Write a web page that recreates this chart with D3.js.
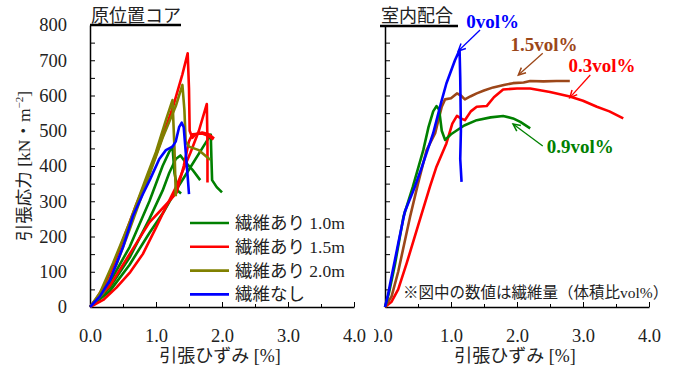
<!DOCTYPE html>
<html>
<head>
<meta charset="utf-8">
<script src="https://cdn.jsdelivr.net/npm/d3@7"></script>
<style>
  body { margin: 0; background: #fff; }
  text { font-family: "Liberation Serif", "Noto Sans CJK JP", serif; fill: #222; }
</style>
</head>
<body>
<div id="chart"></div>
<script>
// 原位置コア (field cores) - [strain %, stress kN/m2]
const fieldGreenA = [[0,0],[0.3,70],[0.6,170],[0.9,300],[1.1,400],[1.2,440],[1.25,455],[1.28,380],[1.33,330],[1.38,322]];
const fieldGreenB = [[0,0],[0.3,55],[0.6,140],[0.9,250],[1.1,330],[1.2,380],[1.3,420],[1.37,430],[1.45,410],[1.55,390],[1.67,360]];
const fieldGreenC = [[0,0],[0.3,45],[0.6,120],[0.9,210],[1.11,268],[1.3,330],[1.5,390],[1.7,450],[1.83,489],[1.84,420],[1.85,360],[1.92,340],[2.0,325]];
const fieldRedA = [[0,0],[0.1,25],[0.2,55],[0.35,116],[0.5,190],[0.7,290],[0.86,362],[1.0,430],[1.26,569],[1.4,660],[1.48,720],[1.5,620],[1.51,500],[1.55,480],[1.6,490],[1.7,495],[1.8,490],[1.88,478]];
const fieldRedB = [[0,0],[0.2,20],[0.4,55],[0.61,99],[0.8,150],[1.0,225],[1.11,268],[1.31,343],[1.52,437],[1.65,500],[1.77,576],[1.78,460],[1.78,353]];
const fieldRedC = [[0,0],[0.3,60],[0.6,150],[0.9,240],[1.2,300],[1.31,324],[1.42,400],[1.5,470],[1.55,490],[1.7,492],[1.8,485],[1.87,475]];
const fieldOliveA = [[0,0],[0.15,40],[0.35,125],[0.6,240],[0.86,371],[1.0,440],[1.15,530],[1.25,587],[1.28,450],[1.3,314]];
const fieldOliveB = [[0,0],[0.2,40],[0.4,120],[0.6,220],[0.86,355],[1.1,480],[1.3,570],[1.4,630],[1.43,560],[1.45,470],[1.5,455],[1.65,445],[1.82,418]];
const fieldBlue = [[0,0],[0.15,30],[0.3,75],[0.5,170],[0.65,258],[0.8,320],[0.91,362],[1.05,420],[1.15,445],[1.25,455],[1.3,470],[1.35,510],[1.39,523],[1.42,510],[1.45,440],[1.48,370],[1.5,320]];

// 室内配合 (lab mix)
const labBlue = [[0,0],[0.04,30],[0.08,68],[0.2,180],[0.3,270],[0.45,340],[0.56,398],[0.73,493],[0.85,580],[0.93,634],[1.06,700],[1.13,729],[1.14,650],[1.15,500],[1.14,420],[1.16,355]];
const labGreen = [[0,0],[0.06,40],[0.15,120],[0.28,256],[0.42,340],[0.58,445],[0.66,511],[0.73,555],[0.78,570],[0.82,560],[0.86,500],[0.91,474],[1.0,490],[1.2,515],[1.39,530],[1.6,538],[1.79,542],[1.94,535],[2.05,525],[2.2,507]];
const labBrown = [[0,0],[0.1,30],[0.2,100],[0.38,256],[0.5,350],[0.63,445],[0.76,493],[0.86,568],[0.91,589],[1.0,592],[1.09,606],[1.15,600],[1.21,589],[1.3,598],[1.39,606],[1.5,614],[1.64,623],[1.8,630],[1.94,635],[2.1,637],[2.2,641],[2.4,640],[2.6,641],[2.8,641]];
const labRed = [[0,0],[0.1,15],[0.2,50],[0.33,125],[0.5,230],[0.68,341],[0.78,398],[0.93,464],[1.02,520],[1.09,542],[1.15,535],[1.21,530],[1.3,555],[1.39,568],[1.54,570],[1.65,595],[1.79,617],[2.0,620],[2.2,620],[2.5,610],[2.8,597],[3.0,585],[3.21,568],[3.4,555],[3.61,535]];

const legendLabels = ["繊維あり 1.0m", "繊維あり 1.5m", "繊維あり 2.0m", "繊維なし"];

// annotations: label, text pos [x,y], arrow from, arrow to (data units)
const labNotes = [
  { text: "0vol%", color: "#0000ff", at: [1.23, 792], from: [1.44, 786], to: [1.11, 726] },
  { text: "1.5vol%", color: "#9c4719", at: [1.90, 725], from: [2.39, 720], to: [2.02, 658] },
  { text: "0.3vol%", color: "#ff0000", at: [2.78, 668], from: [3.11, 658], to: [2.80, 594] },
  { text: "0.9vol%", color: "#008000", at: [2.45, 437], from: [2.39, 457], to: [1.94, 519] }
];

const width = 678, height = 372;
const svg = d3.select("#chart").append("svg")
  .attr("width", width).attr("height", height);

const y = d3.scaleLinear().domain([0, 800]).range([307, 25]);
const xL = d3.scaleLinear().domain([0, 4]).range([90, 354]);
const xR = d3.scaleLinear().domain([0, 4]).range([385, 649]);

svg.append("defs").append("clipPath").attr("id", "zeroclip")
  .append("rect").attr("x", 374).attr("y", 300).attr("width", 60).attr("height", 60);

function drawAxes(g, x, showY) {
  const yAx = d3.axisLeft(y)
    .tickValues(d3.range(0, 801, 50))
    .tickSize(-5).tickSizeOuter(0).tickPadding(23)
    .tickFormat(d => (showY && d % 100 === 0) ? d : "");
  const ya = g.append("g").attr("transform", `translate(${x(0)},0)`).call(yAx);
  ya.select(".domain").attr("stroke-width", 1.5);
  ya.selectAll("text").style("font-size", "18.5px").attr("fill", "#222");

  const xAx = d3.axisBottom(x)
    .tickValues(d3.range(0, 4.01, 0.5))
    .tickSize(-5).tickSizeOuter(0).tickPadding(22)
    .tickFormat(d => (Number.isInteger(d) && (showY || d > 0)) ? d.toFixed(1) : "");
  const xa = g.append("g").attr("transform", `translate(0,${y(0)})`).call(xAx);
  xa.select(".domain").attr("stroke-width", 1.5);
  xa.selectAll(".tick line").attr("y2", d => Number.isInteger(d) ? -5 : -3);
  xa.selectAll("text").style("font-size", "18.5px").attr("fill", "#222");

  g.append("text")
    .attr("x", (x(0) + x(4)) / 2 - 2).attr("y", 362)
    .attr("text-anchor", "middle").style("font-size", "18px")
    .text("引張ひずみ [%]");
}

function drawLines(g, x, list) {
  const line = d3.line().x(d => x(d[0])).y(d => y(d[1]));
  g.selectAll(null).data(list).join("path")
    .attr("d", d => line(d.values))
    .attr("fill", "none")
    .attr("stroke", d => d.color)
    .attr("stroke-width", 2.6)
    .attr("stroke-linejoin", "round");
}

// left panel
const left = svg.append("g");
drawAxes(left, xL, true);
const fieldColors = ["#008000", "#ff0000", "#808000", "#0000ff"];
drawLines(left, xL, [
  { values: fieldGreenA, color: fieldColors[0] },
  { values: fieldGreenB, color: fieldColors[0] },
  { values: fieldGreenC, color: fieldColors[0] },
  { values: fieldRedB, color: fieldColors[1] },
  { values: fieldRedC, color: fieldColors[1] },
  { values: fieldRedA, color: fieldColors[1] },
  { values: fieldOliveA, color: fieldColors[2] },
  { values: fieldOliveB, color: fieldColors[2] },
  { values: fieldBlue, color: fieldColors[3] }
]);

left.append("text").attr("x", 91).attr("y", 22).style("font-size", "18px").text("原位置コア");
left.append("line").attr("x1", 90).attr("x2", 181).attr("y1", 25).attr("y2", 25)
  .attr("stroke", "#000").attr("stroke-width", 2.5);

left.append("text")
  .attr("transform", "translate(30,166) rotate(-90)")
  .attr("text-anchor", "middle").style("font-size", "17.5px")
  .call(t => {
    t.append("tspan").text("引張応力 [kN・m");
    t.append("tspan").attr("dy", -7).style("font-size", "11px").text("−2");
    t.append("tspan").attr("dy", 7).text("]");
  });

const legend = left.append("g").attr("transform", "translate(190,223)");
legend.selectAll("line").data(legendLabels).join("line")
  .attr("x1", 0).attr("x2", 39)
  .attr("y1", (_, i) => i * 23.8).attr("y2", (_, i) => i * 23.8)
  .attr("stroke", (_, i) => fieldColors[i]).attr("stroke-width", 2.6);
legend.selectAll("text").data(legendLabels).join("text")
  .attr("x", 45).attr("y", (_, i) => i * 23.8 + 6)
  .style("font-size", "17.5px")
  .text(d => d);

// right panel
const right = svg.append("g");
drawAxes(right, xR, false);

// the right panel's "0.0" is cut off by the left panel in the original
right.append("text")
  .attr("clip-path", "url(#zeroclip)")
  .attr("x", xR(0) - 15.3).attr("y", y(0) + 35)
  .style("font-size", "18.5px")
  .text("0");
right.append("text")
  .attr("x", xR(0) - 6.1).attr("y", y(0) + 35)
  .style("font-size", "18.5px")
  .text(".0");

drawLines(right, xR, [
  { values: labRed, color: "#ff0000" },
  { values: labBrown, color: "#9c4719" },
  { values: labGreen, color: "#008000" },
  { values: labBlue, color: "#0000ff" }
]);

right.append("text").attr("x", 381).attr("y", 22).style("font-size", "18px").text("室内配合");
right.append("line").attr("x1", 380).attr("x2", 458).attr("y1", 26).attr("y2", 26)
  .attr("stroke", "#000").attr("stroke-width", 2.5);

right.append("text").attr("x", 403).attr("y", 298).style("font-size", "15.5px")
  .text("※図中の数値は繊維量（体積比vol%）");

const notes = right.selectAll("g.note").data(labNotes).join("g").attr("class", "note");
notes.append("line")
  .attr("x1", d => xR(d.from[0])).attr("y1", d => y(d.from[1]))
  .attr("x2", d => xR(d.to[0])).attr("y2", d => y(d.to[1]))
  .attr("stroke", d => d.color).attr("stroke-width", 1.3);
notes.append("path")
  .attr("d", d => {
    const x1 = xR(d.from[0]), y1 = y(d.from[1]), x2 = xR(d.to[0]), y2 = y(d.to[1]);
    const a = Math.atan2(y2 - y1, x2 - x1), L = 8, w = 0.45;
    const p1 = [x2 - L * Math.cos(a - w), y2 - L * Math.sin(a - w)];
    const p2 = [x2 - L * Math.cos(a + w), y2 - L * Math.sin(a + w)];
    return `M${p1}L${x2},${y2}L${p2}`;
  })
  .attr("fill", "none").attr("stroke", d => d.color).attr("stroke-width", 1.5);
notes.append("text")
  .attr("x", d => xR(d.at[0])).attr("y", d => y(d.at[1]))
  .style("fill", d => d.color)
  .style("font-size", "19px").style("font-weight", "bold")
  .text(d => d.text);
</script>
</body>
</html>
